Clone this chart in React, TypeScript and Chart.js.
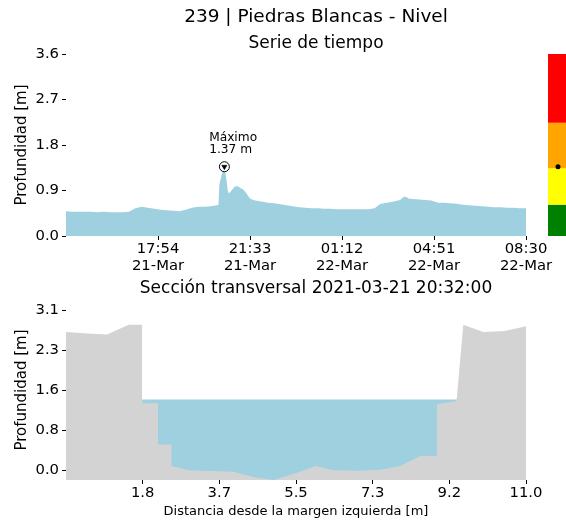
import React, { useEffect, useRef } from 'react';
import { Chart, registerables } from 'chart.js';

Chart.register(...registerables);

// ---------- DATA: time series ----------
const seriesTimes = [
  '21 14:15', '21 14:30', '21 14:45', '21 15:00', '21 15:15', '21 15:30', '21 15:45', '21 16:00',
  '21 16:15', '21 16:30', '21 16:45', '21 17:00', '21 17:15', '21 17:30', '21 17:45', '21 18:00',
  '21 18:15', '21 18:30', '21 18:45', '21 19:00', '21 19:15', '21 19:30', '21 19:45', '21 20:00',
  '21 20:15', '21 20:18', '21 20:20', '21 20:26', '21 20:32', '21 20:37', '21 20:40', '21 20:43',
  '21 20:47', '21 20:52', '21 20:56', '21 21:00', '21 21:05', '21 21:10', '21 21:15', '21 21:20',
  '21 21:25', '21 21:30', '21 21:35', '21 21:45', '21 22:00', '21 22:15', '21 22:30', '21 22:45',
  '21 23:00', '21 23:15', '21 23:30', '21 23:45', '22 00:00', '22 00:15', '22 00:30', '22 00:45',
  '22 01:00', '22 01:15', '22 01:30', '22 01:45', '22 02:00', '22 02:15', '22 02:30', '22 02:40',
  '22 02:45', '22 03:00', '22 03:15', '22 03:30', '22 03:40', '22 03:45', '22 03:50', '22 04:00',
  '22 04:15', '22 04:30', '22 04:45', '22 05:00', '22 05:15', '22 05:30', '22 05:45', '22 06:00',
  '22 06:15', '22 06:30', '22 06:45', '22 07:00', '22 07:15', '22 07:30', '22 07:45', '22 08:00',
  '22 08:15', '22 08:30',
];
const seriesLevels = [
  0.49, 0.48, 0.48, 0.48, 0.48, 0.47, 0.48, 0.47,
  0.47, 0.47, 0.48, 0.55, 0.58, 0.56, 0.54, 0.52,
  0.51, 0.50, 0.49, 0.52, 0.56, 0.58, 0.58, 0.59,
  0.61, 0.62, 1.02, 1.22, 1.37, 1.12, 0.90, 0.84,
  0.88, 0.93, 0.97, 0.99, 0.98, 0.95, 0.93, 0.89,
  0.84, 0.77, 0.73, 0.70, 0.68, 0.66, 0.65, 0.63,
  0.61, 0.59, 0.57, 0.56, 0.55, 0.55, 0.54, 0.54,
  0.53, 0.53, 0.53, 0.53, 0.53, 0.53, 0.55, 0.62,
  0.64, 0.66, 0.68, 0.71, 0.78, 0.77, 0.74, 0.73,
  0.72, 0.71, 0.70, 0.66, 0.66, 0.65, 0.64, 0.62,
  0.61, 0.60, 0.59, 0.58, 0.57, 0.57, 0.56, 0.56,
  0.55, 0.55,
];
const seriesStart = '21 14:15';
const seriesEnd = '22 08:30';
const maxTime = '21 20:32';
const maxLevel = 1.37;
const timeTickTimes = ['21 17:54', '21 21:33', '22 01:12', '22 04:51', '22 08:30'];
const timeTickLabels = [
  ['17:54', '21-Mar'],
  ['21:33', '21-Mar'],
  ['01:12', '22-Mar'],
  ['04:51', '22-Mar'],
  ['08:30', '22-Mar'],
];
const depthTicksTop = [0, 0.9, 1.8, 2.7, 3.6];
const depthTickLabelsTop = ['0.0', '0.9', '1.8', '2.7', '3.6'];
const alertBounds = [0, 0.62, 1.34, 2.24, 3.6];
const alertColors = ['#008000', '#ffff00', '#ffa500', '#ff0000'];

// ---------- DATA: cross-section ----------
const sectionX = [
  0, 0.52, 0.98, 1.5, 1.82, 1.82, 2.2, 2.2, 2.52, 2.52, 2.93, 4.01, 4.53, 4.98,
  5.52, 5.98, 6.4, 7.0, 7.52, 7.99, 8.49, 8.87, 8.87, 9.34, 9.5, 9.98, 10.49, 11.0,
];
const sectionZ = [
  2.68, 2.65, 2.63, 2.82, 2.82, 1.3, 1.3, 0.5, 0.5, 0.08, 0.0, -0.03, -0.14, -0.19,
  -0.05, 0.08, 0.0, -0.01, 0.01, 0.08, 0.28, 0.27, 1.28, 1.34, 2.82, 2.68, 2.7, 2.79,
];
const waterLevel = 1.37;
const waterX = [1.82, 9.4];
const distTicks = [11 / 6, 22 / 6, 33 / 6, 44 / 6, 55 / 6, 11];
const distTickLabels = ['1.8', '3.7', '5.5', '7.3', '9.2', '11.0'];
const depthTicksBottom = [0, 0.775, 1.55, 2.325, 3.1];
const depthTickLabelsBottom = ['0.0', '0.8', '1.6', '2.3', '3.1'];
const sectionYMin = -0.19;
const sectionYMax = 3.3;

// ---------- helpers ----------
const FONT = "'DejaVu Sans', sans-serif";
const BLUE = 'rgb(158, 208, 223)';
const GREY = '#d3d3d3';
const toMin = (s: string) => {
  const [d, hm] = s.split(' ');
  const [h, m] = hm.split(':').map(Number);
  return Number(d) * 1440 + h * 60 + m;
};
const t0 = toMin(seriesStart);
const rel = (s: string) => toMin(s) - t0;

const yAxisBase = (ticks: number[], labels: string[], min: number, max: number) => ({
  type: 'linear' as const,
  min,
  max,
  afterBuildTicks: (axis: any) => {
    axis.ticks = ticks.map((v) => ({ value: v }));
  },
  afterFit: (axis: any) => {
    axis.width = 66;
  },
  ticks: {
    autoSkip: false,
    padding: 3,
    color: '#000',
    font: { family: FONT, size: 14.8 },
    callback: (_v: any, i: number) => labels[i],
  },
  grid: { drawOnChartArea: false, drawTicks: true, tickLength: 4, color: '#000', lineWidth: 1 },
  border: { display: false },
  title: {
    display: true,
    text: 'Profundidad [m]',
    color: '#000',
    font: { family: FONT, size: 15 },
    padding: { top: 13, bottom: 0 },
  },
});

export default function App() {
  const topRef = useRef<HTMLCanvasElement>(null);
  const botRef = useRef<HTMLCanvasElement>(null);

  useEffect(() => {
    const topExtras = {
      id: 'topExtras',
      afterDraw(chart: any) {
        const { ctx, chartArea, scales } = chart;
        const ys = scales.y;
        const xs = scales.x;
        ctx.save();
        const x0 = chartArea.right + 22;
        const x1 = chart.width;
        for (let i = 0; i < alertColors.length; i++) {
          const yb = ys.getPixelForValue(alertBounds[i]);
          const yt = ys.getPixelForValue(alertBounds[i + 1]);
          ctx.fillStyle = alertColors[i];
          ctx.fillRect(x0, yt, x1 - x0, yb - yt);
        }
        ctx.beginPath();
        ctx.arc((x0 + x1) / 2 + 1, ys.getPixelForValue(maxLevel), 2.5, 0, Math.PI * 2);
        ctx.fillStyle = '#000';
        ctx.fill();
        const px = xs.getPixelForValue(rel(maxTime));
        const py = ys.getPixelForValue(maxLevel);
        ctx.font = `12.2px ${FONT}`;
        ctx.fillStyle = '#000';
        ctx.textAlign = 'left';
        ctx.textBaseline = 'alphabetic';
        ctx.fillText('Máximo', px - 15.2, py - 25.5);
        ctx.fillText(`${maxLevel.toFixed(2)} m`, px - 15.2, py - 13.7);
        ctx.restore();
      },
    };

    const top = new Chart(topRef.current!, {
      type: 'line',
      data: {
        datasets: [
          {
            data: [{ x: rel(maxTime), y: maxLevel }],
            showLine: false,
            pointStyle: 'triangle',
            pointRotation: 180,
            pointRadius: 3,
            pointBackgroundColor: '#000',
            pointBorderColor: '#000',
            pointBorderWidth: 0.5,
          },
          {
            data: [{ x: rel(maxTime), y: maxLevel }],
            showLine: false,
            pointStyle: 'circle',
            pointRadius: 5,
            pointBackgroundColor: '#fff',
            pointBorderColor: '#000',
            pointBorderWidth: 1,
          },
          {
            data: seriesTimes.map((t, i) => ({ x: rel(t), y: seriesLevels[i] })),
            fill: 'origin',
            backgroundColor: BLUE,
            borderColor: 'rgba(0,0,0,0)',
            borderWidth: 1,
            pointRadius: 0,
            tension: 0,
          },
        ],
      } as any,
      options: {
        responsive: false,
        maintainAspectRatio: false,
        animation: false,
        events: [],
        layout: { padding: { top: 54, left: 0, right: 40, bottom: 0 } },
        plugins: { legend: { display: false }, tooltip: { enabled: false }, title: { display: false } },
        scales: {
          x: {
            type: 'linear',
            min: rel(seriesStart),
            max: rel(seriesEnd),
            afterBuildTicks: (axis: any) => {
              axis.ticks = timeTickTimes.map((t) => ({ value: rel(t) }));
            },
            afterFit: (axis: any) => {
              axis.height = 44;
            },
            ticks: {
              autoSkip: false,
              maxRotation: 0,
              padding: 0,
              color: '#000',
              font: { family: FONT, size: 14.8 },
              callback: (_v: any, i: number) => timeTickLabels[i],
            },
            grid: { drawOnChartArea: false, drawTicks: true, tickLength: 4, color: '#000' },
            border: { display: false },
          },
          y: yAxisBase(depthTicksTop, depthTickLabelsTop, 0, 3.6),
        },
      } as any,
      plugins: [topExtras],
    });

    const bot = new Chart(botRef.current!, {
      type: 'line',
      data: {
        datasets: [
          {
            data: sectionX.map((x, i) => ({ x, y: sectionZ[i] })),
            fill: 'start',
            backgroundColor: GREY,
            borderColor: 'rgba(0,0,0,0)',
            borderWidth: 1,
            pointRadius: 0,
            tension: 0,
          },
          {
            data: waterX.map((x) => ({ x, y: waterLevel })),
            fill: 'start',
            backgroundColor: BLUE,
            borderColor: 'rgba(0,0,0,0)',
            borderWidth: 1,
            pointRadius: 0,
            tension: 0,
          },
        ],
      } as any,
      options: {
        responsive: false,
        maintainAspectRatio: false,
        animation: false,
        events: [],
        layout: { padding: { top: 20, left: 0, right: 40, bottom: 0 } },
        plugins: { legend: { display: false }, tooltip: { enabled: false }, title: { display: false } },
        scales: {
          x: {
            type: 'linear',
            min: 0,
            max: 11,
            afterBuildTicks: (axis: any) => {
              axis.ticks = distTicks.map((v) => ({ value: v }));
            },
            afterFit: (axis: any) => {
              axis.height = 45;
            },
            ticks: {
              autoSkip: false,
              maxRotation: 0,
              padding: 0,
              color: '#000',
              font: { family: FONT, size: 14.8 },
              callback: (_v: any, i: number) => distTickLabels[i],
            },
            grid: { drawOnChartArea: false, drawTicks: true, tickLength: 4, color: '#000' },
            border: { display: false },
            title: {
              display: true,
              text: 'Distancia desde la margen izquierda [m]',
              color: '#000',
              font: { family: FONT, size: 13 },
              padding: { top: 0, bottom: 6 },
            },
          },
          y: yAxisBase(depthTicksBottom, depthTickLabelsBottom, sectionYMin, sectionYMax),
        },
      } as any,
    });

    return () => {
      top.destroy();
      bot.destroy();
    };
  }, []);

  const titleStyle = (top: number, size: number): React.CSSProperties => ({
    position: 'absolute',
    left: 316,
    top,
    transform: 'translateX(-50%)',
    whiteSpace: 'nowrap',
    fontFamily: FONT,
    fontSize: size,
    lineHeight: 1,
    color: '#000',
  });

  return (
    <div style={{ position: 'absolute', left: 0, top: 0, width: 566, height: 525, background: '#fff', overflow: 'hidden' }}>
      <canvas ref={topRef} width={566} height={280} style={{ position: 'absolute', left: 0, top: 0 }} />
      <canvas ref={botRef} width={566} height={245} style={{ position: 'absolute', left: 0, top: 280 }} />
      <div style={titleStyle(6.7, 18.5)}>239 | Piedras Blancas - Nivel</div>
      <div style={titleStyle(34.2, 17)}>Serie de tiempo</div>
      <div style={titleStyle(278.6, 17)}>Sección transversal 2021-03-21 20:32:00</div>
    </div>
  );
}
